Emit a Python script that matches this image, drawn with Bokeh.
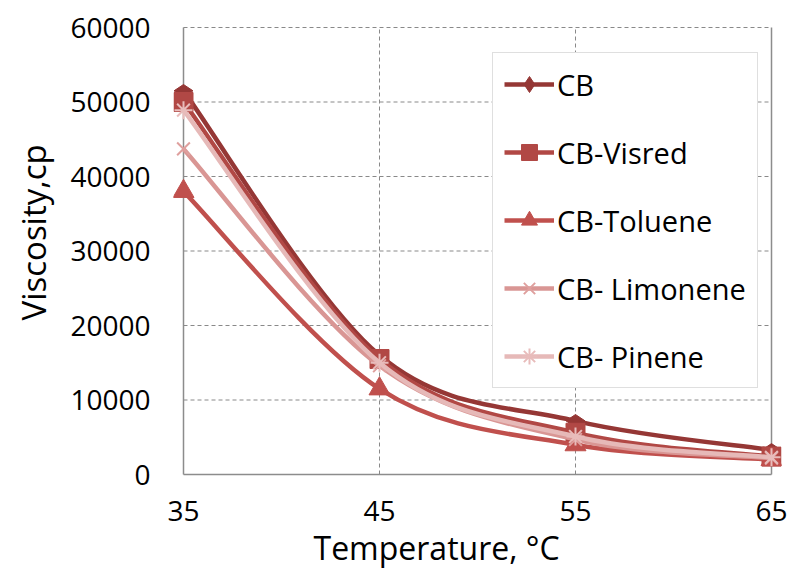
import numpy as np
from bokeh.plotting import figure
from bokeh.models import (Range1d, Legend, LegendItem, FixedTicker, BasicTickFormatter,
                          ColumnDataSource, Title)
from bokeh.embed import file_html
from bokeh.resources import INLINE

# ---- data ----
temperature = [35, 45, 55, 65]
cb = [51500, 16000, 7200, 3300]
cb_visred = [50000, 15500, 5600, 2400]
cb_toluene = [38000, 11500, 4000, 2000]
cb_limonene = [43700, 14600, 4700, 2200]
cb_pinene = [48900, 15000, 5100, 2300]
series_names = ["CB", "CB-Visred", "CB-Toluene", "CB- Limonene", "CB- Pinene"]
x_ticks = [35, 45, 55, 65]
y_ticks = [0, 10000, 20000, 30000, 40000, 50000, 60000]
x_title = "Temperature, °C"
y_title = "Viscosity,cp"

FONT = "Open Sans"
X_MIN, X_MAX = 35, 65
Y_MIN, Y_MAX = 0, 60000

# ---- layout (pixels) ----
DATA_LEFT, DATA_RIGHT, DATA_TOP, DATA_BOTTOM = 183, 771, 27, 474
PAD_X, PAD_Y = 10, 2
DATA_W, DATA_H = DATA_RIGHT - DATA_LEFT, DATA_BOTTOM - DATA_TOP
ux = (X_MAX - X_MIN) / DATA_W
uy = (Y_MAX - Y_MIN) / DATA_H
FRAME_LEFT, FRAME_BOTTOM = DATA_LEFT - PAD_X, DATA_BOTTOM + PAD_Y

p = figure(width=791, height=578, output_backend="svg", toolbar_location=None,
           x_range=Range1d(X_MIN - PAD_X * ux, X_MAX + PAD_X * ux),
           y_range=Range1d(Y_MIN - PAD_Y * uy, Y_MAX + PAD_Y * uy),
           min_border_left=FRAME_LEFT, min_border_right=791 - DATA_RIGHT - PAD_X,
           min_border_top=DATA_TOP - PAD_Y, min_border_bottom=578 - FRAME_BOTTOM)
p.outline_line_color = None
p.xgrid.visible = False
p.ygrid.visible = False
p.background_fill_color = "white"
p.border_fill_color = "white"

# grid lines (dashed) and frame lines
GRID = "#898989"
p.segment(x0=[X_MIN] * (len(y_ticks) - 1), y0=y_ticks[1:], x1=[X_MAX] * (len(y_ticks) - 1), y1=y_ticks[1:],
          line_color=GRID, line_width=1, line_dash="4 3")
p.segment(x0=x_ticks[1:-1], y0=[Y_MIN] * (len(x_ticks) - 2), x1=x_ticks[1:-1], y1=[Y_MAX] * (len(x_ticks) - 2),
          line_color=GRID, line_width=1, line_dash="4 3")
p.segment(x0=[X_MIN, X_MIN, X_MAX], y0=[Y_MIN, Y_MIN, Y_MIN], x1=[X_MIN, X_MAX, X_MAX], y1=[Y_MAX, Y_MIN, Y_MAX],
          line_color="#8C8C8C", line_width=1.5)


def smooth_segments(xs, ys):
    pts = list(zip(xs, ys))
    n = len(pts)
    d = dict(x0=[], y0=[], x1=[], y1=[], cx0=[], cy0=[], cx1=[], cy1=[])
    for i in range(n - 1):
        pp = pts[i - 1] if i > 0 else pts[i]
        a = pts[i]
        b = pts[i + 1]
        nn = pts[i + 2] if i + 2 < n else pts[i + 1]
        d["x0"].append(a[0]); d["y0"].append(a[1])
        d["x1"].append(b[0]); d["y1"].append(b[1])
        d["cx0"].append(a[0] + (b[0] - pp[0]) / 6.0)
        d["cy0"].append(a[1] + (b[1] - pp[1]) / 6.0)
        d["cx1"].append(b[0] - (nn[0] - a[0]) / 6.0)
        d["cy1"].append(b[1] - (nn[1] - a[1]) / 6.0)
    return ColumnDataSource(d)


series = [cb, cb_visred, cb_toluene, cb_limonene, cb_pinene]
colors = ["#953735", "#B14845", "#C0504D", "#D99694", "#E6B9B8"]
marker_colors = ["#953735", "#B14845", "#C0504D", "#DFA09E", "#E8BCBB"]
markers = ["diamond", "square", "triangle", "x", "asterisk"]
sizes = [19, 19, 21, 18, 18]
angles = [np.pi / 2, 0, 0, 0, 0]

items = []
for vals, name, col, mcol, mk, sz, ang in zip(series, series_names, colors, marker_colors, markers, sizes, angles):
    src = smooth_segments(temperature, vals)
    r_line = p.bezier(x0="x0", y0="y0", x1="x1", y1="y1", cx0="cx0", cy0="cy0", cx1="cx1", cy1="cy1",
                      source=src, line_color=col, line_width=4.5)
    if mk in ("x", "asterisk"):
        r_mk = p.scatter(temperature, vals, marker=mk, size=sz, line_color=mcol, line_width=2, fill_color=None)
    else:
        r_mk = p.scatter(temperature, vals, marker=mk, size=sz, angle=ang, line_color=mcol, fill_color=mcol,
                         line_width=1)
    items.append(LegendItem(label=name, renderers=[r_line, r_mk]))

legend = Legend(items=items, location=(319, 88), orientation="vertical",
                glyph_width=50, glyph_height=40, spacing=28, padding=11, margin=0,
                label_standoff=3, label_text_font=FONT, label_text_font_size="29px",
                label_text_color="#000000", label_text_baseline="middle",
                border_line_color="#BFBFBF", border_line_width=1,
                background_fill_color="white", background_fill_alpha=1.0)
p.add_layout(legend, "center")

# axes (tick labels only; axis lines drawn above)
p.xaxis.ticker = FixedTicker(ticks=x_ticks)
p.yaxis.ticker = FixedTicker(ticks=y_ticks)
p.yaxis.formatter = BasicTickFormatter(use_scientific=False)
for ax in (p.xaxis[0], p.yaxis[0]):
    ax.axis_line_color = None
    ax.major_tick_line_color = None
    ax.minor_tick_line_color = None
    ax.major_tick_out = 0
    ax.major_tick_in = 0
    ax.minor_tick_out = 0
    ax.major_label_text_font = FONT
    ax.major_label_text_font_size = "28px"
    ax.major_label_text_color = "#000000"
p.xaxis.major_label_standoff = 24
p.yaxis.major_label_standoff = 23

# axis titles as side titles (placed as in the reference)
p.add_layout(Title(text=x_title, align="left", offset=140, standoff=0,
                   text_font=FONT, text_font_size="32px", text_font_style="normal",
                   text_color="#000000"), "below")
p.add_layout(Title(text=y_title, align="left", offset=156, standoff=20, vertical_align="top",
                   text_font=FONT, text_font_size="33px", text_font_style="normal",
                   text_color="#000000"), "left")

open("out.html", "w").write(file_html(p, INLINE))
